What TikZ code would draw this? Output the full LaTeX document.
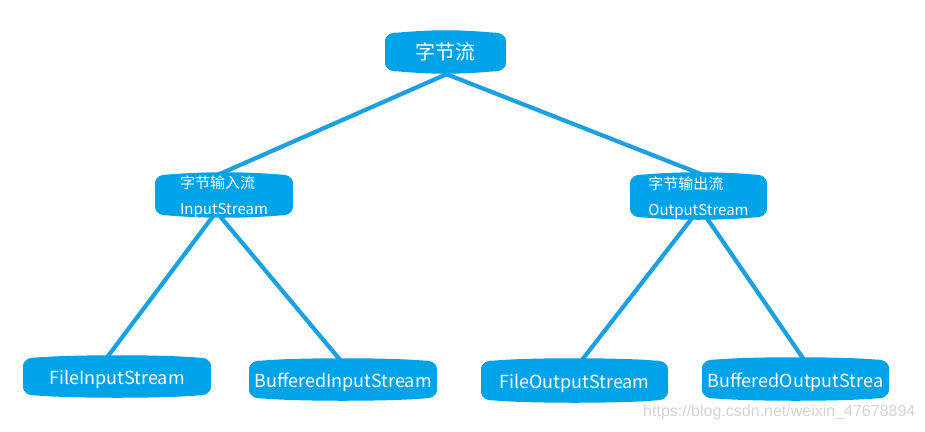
\documentclass[tikz,border=0pt]{standalone}
\usepackage{fontspec}
\setmainfont{Noto Sans CJK SC}
\newfontfamily\wmfont{Liberation Sans}
\definecolor{boxfill}{RGB}{0,162,232}
\definecolor{linkcol}{RGB}{28,160,226}
\definecolor{wmgray}{RGB}{212,212,212}
\pgfdeclarelayer{background}
\pgfsetlayers{background,main}
\tikzset{
  boxshape/.style={fill=boxfill},
  boxnode/.style={inner sep=0pt, text=white, align=left},
  link/.style={draw=linkcol, line width=4.2pt},
  bigtxt/.style={font=\fontsize{18}{20}\selectfont, yshift=-3pt},
  twotxt/.style={font=\fontsize{15}{26}\selectfont, yshift=-2pt},
}
% #1 x1, #2 y1 (top extreme), #3 x2, #4 y2 (bottom extreme), #5 name, #6 node options, #7 text
\newcommand\myblob[7]{%
  \fill[boxshape] (#1,#4-12) -- (#1,#2+12)
    .. controls (#1,#2+5) and (#1+5,#2+2.5) .. (#1+14,#2+2.5)
    .. controls (#1+50,#2-0.5) and (#3-50,#2-0.5) .. (#3-14,#2+2.5)
    .. controls (#3-5,#2+2.5) and (#3,#2+5) .. (#3,#2+12) -- (#3,#4-12)
    .. controls (#3,#4-5) and (#3-5,#4-2.5) .. (#3-14,#4-2.5)
    .. controls (#3-50,#4+0.5) and (#1+50,#4+0.5) .. (#1+14,#4-2.5)
    .. controls (#1+5,#4-2.5) and (#1,#4-5) .. cycle;
  \node[boxnode, #6, minimum width={#3pt-#1pt}, minimum height={#4pt-#2pt}]
    (#5) at ({(#1+#3)/2},{(#2+#4)/2}) {#7};
}
\begin{document}
\begin{tikzpicture}[x=1pt,y=-1pt]
\useasboundingbox (0,0) rectangle (925,431);
\myblob{385}{30}{506}{74}{top}{font=\fontsize{20}{22}\selectfont}{字节流}
\myblob{155}{172}{293}{218}{in}{twotxt}{字节输入流\\InputStream}
\myblob{630}{172}{767}{220}{out}{twotxt}{字节输出流\\OutputStream}
\myblob{23}{355}{211}{398}{fis}{bigtxt}{FileInputStream}
\myblob{249}{358}{437}{401}{bis}{bigtxt}{BufferedInputStream}
\myblob{481}{358}{668}{403}{fos}{bigtxt}{FileOutputStream}
\myblob{702}{357}{889}{401}{bos}{bigtxt}{BufferedOutputStrea}
\begin{pgfonlayer}{background}
\draw[link] ([xshift=1pt,yshift=0pt]top.south) -- ([xshift=-13pt,yshift=-4pt]in.north);
\draw[link] ([xshift=1pt,yshift=0pt]top.south) -- ([xshift=12pt,yshift=-4pt]out.north);
\draw[link] ([xshift=-11pt,yshift=4pt]in.south) -- ([xshift=-14pt,yshift=-5pt]fis.north);
\draw[link] ([xshift=-4pt,yshift=4pt]in.south) -- ([xshift=2pt,yshift=-5pt]bis.north);
\draw[link] ([xshift=-5pt,yshift=6pt]out.south) -- ([xshift=3pt,yshift=-5pt]fos.north);
\draw[link] ([xshift=7pt,yshift=6pt]out.south) -- ([xshift=12pt,yshift=-5pt]bos.north);
\end{pgfonlayer}
\node[anchor=west, inner sep=0pt, text=wmgray, font=\wmfont\fontsize{16}{18}\selectfont] (wm) at (643,412) {https://blog.csdn.net/weixin\_47678894};
\end{tikzpicture}
\end{document}
